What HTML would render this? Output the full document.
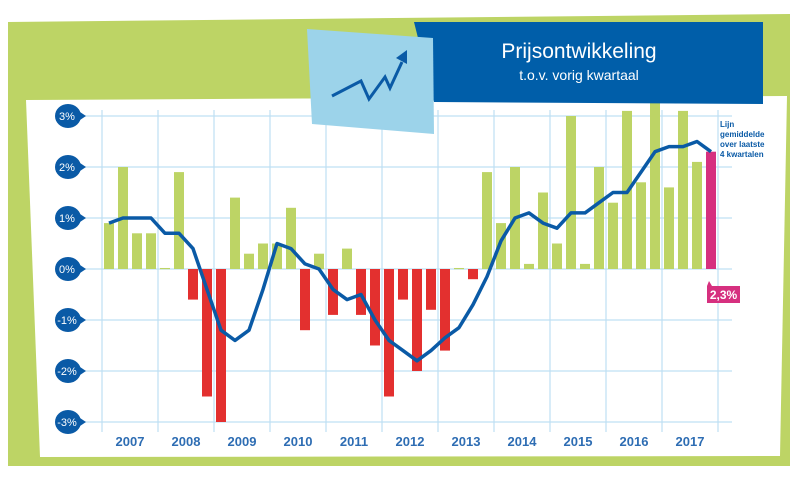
<!DOCTYPE html>
<html><head><meta charset="utf-8"><style>
html,body{margin:0;padding:0;background:#fff;}
svg{display:block;font-family:"Liberation Sans",sans-serif;}
</style></head><body>
<svg width="800" height="477" viewBox="0 0 800 477">
<polygon points="8,22 790,14 790,466 8,466" fill="#bdd465"/>
<polygon points="26,100 787,96 780,456 40,457" fill="#fff"/>
<g id="grid"></g>
<g id="bars"></g>
<polyline id="avg-line" fill="none" stroke="#0a5aa6" stroke-width="3.5" stroke-linejoin="round"/>
<g id="yticks"></g>
<g id="xlabels"></g>
<polygon points="414,22 763,22 763,104 434,102" fill="#005ea9"/>
<text x="579" y="58" text-anchor="middle" font-size="21" fill="#fff">Prijsontwikkeling</text>
<text x="579" y="80" text-anchor="middle" font-size="14" fill="#fff">t.o.v. vorig kwartaal</text>
<polygon points="307,29 433,38 434,134 312,124" fill="#9cd3ea"/>
<polyline points="332,96 361,81 369,99 385,77 390,88 402,62" fill="none" stroke="#0a5aa6" stroke-width="3"/>
<polygon points="396,58 407,50 407,64" fill="#0a5aa6"/>
<text font-size="8" font-weight="bold" fill="#0a5aa6">
<tspan x="720" y="127">Lijn</tspan><tspan x="720" y="137">gemiddelde</tspan><tspan x="720" y="147">over laatste</tspan><tspan x="720" y="157">4 kwartalen</tspan></text>
<g>
<polygon points="707,286 709,281 712,286 740,286 740,303 707,303" fill="#d6307f"/>
<text x="723.5" y="299" text-anchor="middle" font-size="12" font-weight="bold" fill="#fff">2,3%</text>
</g>
</svg>
<script>
const years=["2007","2008","2009","2010","2011","2012","2013","2014","2015","2016","2017"];
const yTicks=[3,2,1,0,-1,-2,-3];
const yTickLabels=["3%","2%","1%","0%","-1%","-2%","-3%"];
const quarterly=[0.9,2.0,0.7,0.7, 0.02,1.9,-0.6,-2.5, -3.0,1.4,0.3,0.5, 0.5,1.2,-1.2,0.3, -0.9,0.4,-0.9,-1.5, -2.5,-0.6,-2.0,-0.8, -1.6,0.02,-0.2,1.9, 0.9,2.0,0.1,1.5, 0.5,3.0,0.1,2.0, 1.3,3.1,1.7,3.3, 1.6,3.1,2.1,2.3];
const average=[0.9,1.0,1.0,1.0, 0.7,0.7,0.4,-0.4, -1.2,-1.4,-1.2,-0.4, 0.5,0.4,0.1,0.0, -0.4,-0.6,-0.5,-1.0, -1.4,-1.6,-1.8,-1.6, -1.35,-1.15,-0.7,-0.15, 0.55,1.0,1.1,0.9, 0.8,1.1,1.1,1.3, 1.5,1.5,1.9,2.3, 2.4,2.4,2.5,2.3];
const NS="http://www.w3.org/2000/svg";
const x0=102, yearW=56, qW=yearW/4;
function y(v){return 269-v*51;}
function xq(i){return x0+i*qW;}
function mk(tag,attrs,parent){const e=document.createElementNS(NS,tag);for(const k in attrs)e.setAttribute(k,attrs[k]);parent.appendChild(e);return e;}
const grid=document.getElementById('grid');
yTicks.forEach(v=>{
  const l=mk('line',{x1:85,x2:732,y1:y(v),y2:y(v),stroke:'#bfe0f3','stroke-width':1.2},grid);
  
  
});
for(let i=0;i<=years.length;i++){
  const l=mk('line',{x1:x0+i*yearW,x2:x0+i*yearW,y1:110,y2:432,stroke:'#bfe0f3','stroke-width':1.2},grid);
  
  
}
const bars=document.getElementById('bars');
quarterly.forEach((v,i)=>{
  const last=i===quarterly.length-1;
  const col=last?'#d6307f':(v>=0?'#bdd465':'#e3302f');
  const top=Math.min(y(v),y(0)),h=Math.max(Math.abs(y(v)-y(0)),1.2);
  const r=mk('rect',{x:xq(i)+2,y:top,width:10,height:h,fill:col},bars);
  
  
});
document.getElementById('avg-line').setAttribute('points',average.map((v,i)=>(xq(i)+7)+','+y(v)).join(' '));
const yt=document.getElementById('yticks');
yTicks.forEach((v,i)=>{
  const g=mk('g',{},yt);
  
  
  mk('polygon',{points:`${74},${y(v)-8} ${86},${y(v)} ${74},${y(v)+8}`,fill:'#0a5aa6'},g);
  mk('ellipse',{cx:68,cy:y(v),rx:13,ry:12,fill:'#0a5aa6'},g);
  const t=mk('text',{x:67,y:y(v)+4,'text-anchor':'middle','font-size':11,fill:'#fff'},g);
  t.textContent=yTickLabels[i];
});
const xl=document.getElementById('xlabels');
years.forEach((yr,i)=>{
  const t=mk('text',{x:x0+i*yearW+yearW/2,y:446,'text-anchor':'middle','font-size':13,'font-weight':'bold',fill:'#2e6db3'},xl);
  
  
  t.textContent=yr;
});
</script>
</body></html>
